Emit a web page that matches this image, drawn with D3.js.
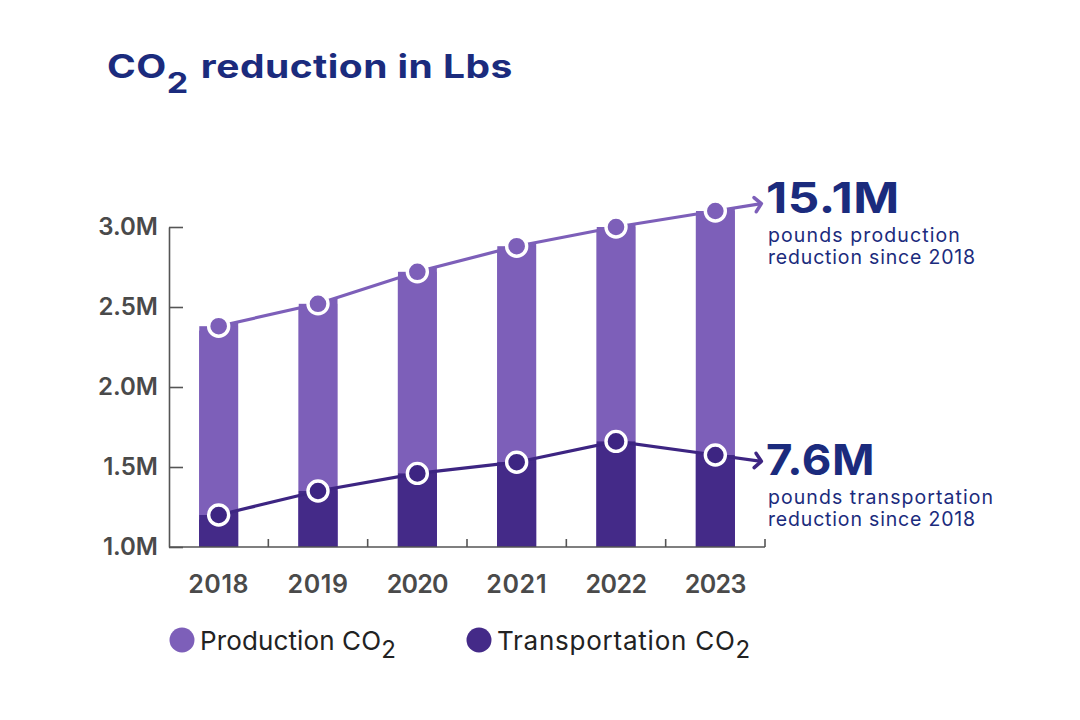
<!DOCTYPE html>
<html>
<head>
<meta charset="utf-8">
<script src="https://cdn.jsdelivr.net/npm/d3@7"></script>
<style>
  html, body { margin: 0; padding: 0; background: #fff; }
  svg { display: block; font-family: Inter, "Noto Sans", sans-serif; }
</style>
</head>
<body>
<svg id="chart" width="1080" height="720"></svg>
<script>
// ---- data ----
const years = ["2018", "2019", "2020", "2021", "2022", "2023"];
const production = [2.38, 2.52, 2.72, 2.88, 3.00, 3.10];      // M lbs
const transportation = [1.20, 1.35, 1.46, 1.53, 1.66, 1.575];  // M lbs
const yTicks = [1.0, 1.5, 2.0, 2.5, 3.0];
const yTickLabels = ["1.0M", "1.5M", "2.0M", "2.5M", "3.0M"];
const seriesNames = ["Production CO", "Transportation CO"];
const totalProduction = "15.1M";
const totalTransportation = "7.6M";
const productionNote = ["pounds production", "reduction since 2018"];
const transportationNote = ["pounds transportation", "reduction since 2018"];

// ---- styles ----
const cLight = "#7d5fb9";
const cDark = "#442a88";
const cLineDark = "#3d2582";
const cNavy = "#1b2b7d";
const cAxis = "#555555";
const cText = "#4a4a4a";

const svg = d3.select("#chart");

// stretch a text element's letter spacing so it spans a given width
function fitWidth(sel, target) {
  const node = sel.node();
  const w = node.getComputedTextLength();
  const n = node.textContent.length;
  const ls = (target - w) / n;
  sel.attr("letter-spacing", ls);
  sel.selectAll("tspan").attr("letter-spacing", ls);
  return sel;
}
// widen glyphs horizontally (for a wider typeface look) to span a given width
function fitStretch(sel, target) {
  const node = sel.node();
  const b = node.getBBox();
  const sx = target / b.width;
  const x0 = b.x;
  sel.attr("transform", `translate(${x0},0) scale(${sx},1) translate(${-x0},0)`);
  return sel;
}

const x = d3.scaleBand().domain(years).range([169, 765])
  .paddingInner(0.607).paddingOuter(0.3035);
const y = d3.scaleLinear().domain([1.0, 3.0]).range([547, 227]);
const bw = x.bandwidth();
const step = x.step();
const cx = d => x(d) + bw / 2;

// ---- title ----
const title = svg.append("text").attr("x", 107).attr("y", 78)
  .attr("fill", cNavy).attr("font-weight", 700).attr("font-size", 32);
title.append("tspan").text("CO");
title.append("tspan").attr("dy", 15).attr("font-size", 28).text("2");
title.append("tspan").attr("dy", -15).attr("dx", 2).text(" reduction in Lbs");
title.attr("letter-spacing", 0.4);
fitStretch(title, 406);

// ---- bars (union of value rect and area under the line, clipped to bands) ----
const defs = svg.append("defs");
const clip = defs.append("clipPath").attr("id", "bands");
clip.selectAll("rect").data(years).join("rect")
  .attr("x", d => x(d)).attr("y", 0).attr("width", bw).attr("height", 720);

function extended(values) {
  const pts = years.map((d, i) => [cx(d), y(values[i])]);
  const n = pts.length;
  const s0 = (pts[1][1] - pts[0][1]) / (pts[1][0] - pts[0][0]);
  const s1 = (pts[n - 1][1] - pts[n - 2][1]) / (pts[n - 1][0] - pts[n - 2][0]);
  const h = bw / 2 + 2;
  return [[pts[0][0] - h, pts[0][1] - s0 * h], ...pts,
          [pts[n - 1][0] + h, pts[n - 1][1] + s1 * h]];
}

function drawBars(values, color) {
  const g = svg.append("g").attr("clip-path", "url(#bands)");
  g.append("path")
    .datum(extended(values))
    .attr("fill", color)
    .attr("d", d3.area().x(p => p[0]).y0(y(1.0)).y1(p => p[1]));
  g.selectAll("rect").data(years).join("rect")
    .attr("x", d => x(d)).attr("width", bw)
    .attr("y", (d, i) => y(values[i]))
    .attr("height", (d, i) => y(1.0) - y(values[i]))
    .attr("fill", color);
}
drawBars(production, cLight);
drawBars(transportation, cDark);

// ---- axes ----
const yAxis = d3.axisLeft(y).tickValues(yTicks)
  .tickFormat((d, i) => yTickLabels[i])
  .tickSizeInner(-14).tickSizeOuter(0).tickPadding(11);
const gy = svg.append("g").attr("transform", "translate(169,0)").call(yAxis);
gy.select(".domain").attr("stroke", cAxis).attr("stroke-width", 1.6);
gy.selectAll(".tick line").attr("stroke", cAxis).attr("stroke-width", 1.6);
gy.selectAll(".tick text").attr("fill", cText).attr("font-size", 24)
  .attr("font-weight", 600).attr("font-family", "Inter, sans-serif");

const gx = svg.append("g");
gx.append("line").attr("x1", 169).attr("x2", x.range()[1])
  .attr("y1", y(1.0)).attr("y2", y(1.0))
  .attr("stroke", cAxis).attr("stroke-width", 1.6);
gx.selectAll("line.tk").data(d3.range(1, years.length + 1)).join("line")
  .attr("class", "tk")
  .attr("x1", i => x.range()[0] + i * step).attr("x2", i => x.range()[0] + i * step)
  .attr("y1", y(1.0)).attr("y2", y(1.0) - 8)
  .attr("stroke", cAxis).attr("stroke-width", 1.6);
gx.selectAll("text").data(years).join("text")
  .attr("x", d => cx(d)).attr("y", 593)
  .attr("text-anchor", "middle").attr("fill", cText)
  .attr("font-size", 25).attr("font-weight", 600)
  .text(d => d)
  .each(function () { fitWidth(d3.select(this), 61); });

// ---- lines with arrows ----
function drawLine(values, color) {
  const pts = years.map((d, i) => [cx(d), y(values[i])]);
  const n = pts.length;
  const dx = pts[n - 1][0] - pts[n - 2][0], dy = pts[n - 1][1] - pts[n - 2][1];
  const len = Math.hypot(dx, dy);
  const ux = dx / len, uy = dy / len;
  const ext = 46 / ux;
  const tip = [pts[n - 1][0] + ux * ext, pts[n - 1][1] + uy * ext];
  svg.append("path").datum([...pts, tip])
    .attr("fill", "none").attr("stroke", color).attr("stroke-width", 3.2)
    .attr("d", d3.line());
  const a = 9.5, ang = Math.atan2(uy, ux);
  const head = [
    [tip[0] - a * Math.cos(ang - 0.85), tip[1] - a * Math.sin(ang - 0.85)],
    tip,
    [tip[0] - a * Math.cos(ang + 0.85), tip[1] - a * Math.sin(ang + 0.85)]
  ];
  svg.append("path").datum(head)
    .attr("fill", "none").attr("stroke", color).attr("stroke-width", 3.6)
    .attr("stroke-linecap", "round").attr("stroke-linejoin", "round")
    .attr("d", d3.line());
  svg.append("g").selectAll("circle").data(pts).join("circle")
    .attr("cx", p => p[0]).attr("cy", p => p[1]).attr("r", 10)
    .attr("fill", color).attr("stroke", "#fff").attr("stroke-width", 3.4);
}
drawLine(production, cLight);
drawLine(transportation, cLineDark);

// ---- annotations ----
function annotate(big, note, baseline, widths) {
  const t = svg.append("text").attr("x", 766).attr("y", baseline)
    .attr("fill", cNavy).attr("font-size", 43).attr("font-weight", 700)
    .attr("letter-spacing", 0.5).text(big);
  fitStretch(t, widths[0]);
  fitWidth(svg.append("text").attr("x", 768).attr("y", baseline + 29)
    .attr("fill", cNavy).attr("font-size", 19.5).attr("font-weight", 400)
    .text(note[0]), widths[1]);
  fitWidth(svg.append("text").attr("x", 768).attr("y", baseline + 51)
    .attr("fill", cNavy).attr("font-size", 19.5).attr("font-weight", 400)
    .text(note[1]), widths[2]);
}
annotate(totalProduction, productionNote, 213, [134, 193, 208]);
annotate(totalTransportation, transportationNote, 475, [109, 226, 208]);

// ---- legend ----
const legendX = [182, 479];
const legendColors = [cLight, cDark];
const legendWidths = [196, 254];
seriesNames.forEach((name, i) => {
  svg.append("circle").attr("cx", legendX[i]).attr("cy", 640).attr("r", 12.5)
    .attr("fill", legendColors[i]);
  const t = svg.append("text").attr("x", legendX[i] + 18).attr("y", 650)
    .attr("fill", "#222").attr("font-size", 26).attr("font-weight", 400);
  t.append("tspan").text(name);
  t.append("tspan").attr("dy", 8).attr("font-size", 24).text("2");
  fitWidth(t, legendWidths[i]);
});
</script>
</body>
</html>
